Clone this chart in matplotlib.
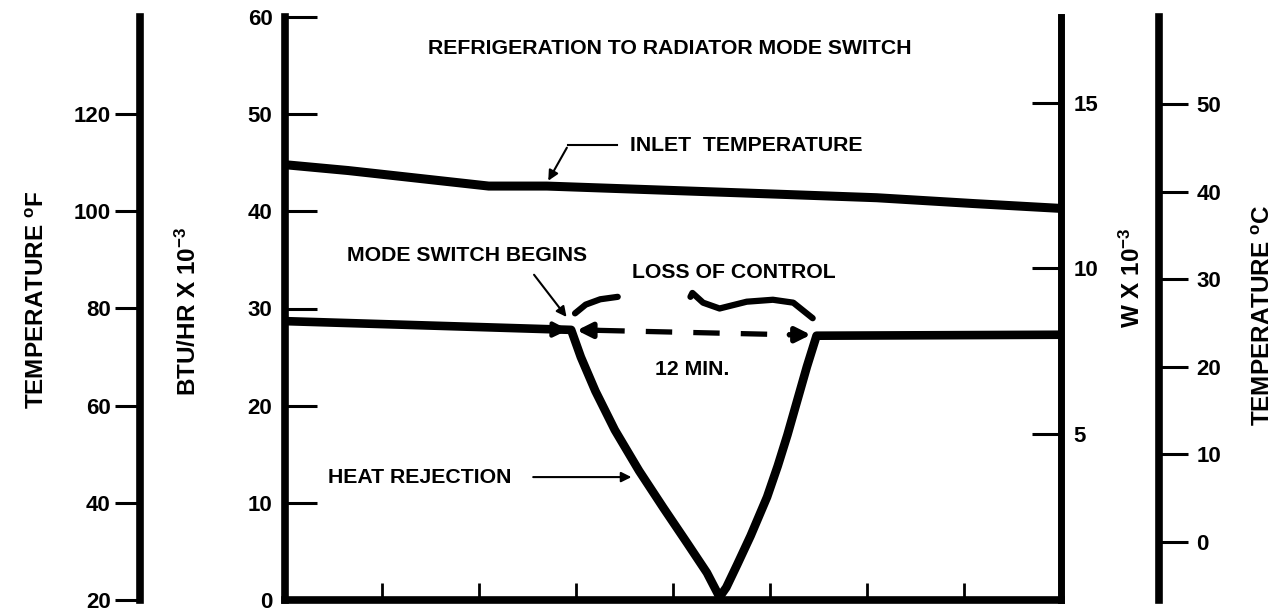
import numpy as np
import matplotlib.pyplot as plt

plt.rcParams['font.family'] = ['Liberation Sans', 'DejaVu Sans']
plt.rcParams['font.weight'] = 'bold'
plt.rcParams['mathtext.fontset'] = 'custom'
plt.rcParams['mathtext.bf'] = 'Liberation Sans:bold'
plt.rcParams['mathtext.rm'] = 'Liberation Sans:bold'
plt.rcParams['mathtext.default'] = 'bf'

# ---- data (BTU/HR x 10^-3 on the main axis, time in 8 equal divisions) ----
time_ticks = [1, 2, 3, 4, 5, 6, 7]

inlet_x = [0, 0.65, 2.1, 2.7, 4.7, 6.1, 7.1, 8]
inlet_y = [44.8, 44.2, 42.6, 42.6, 41.9, 41.4, 40.8, 40.3]

heat_x = [0, 2.95, 3.05, 3.2, 3.4, 3.65, 3.9, 4.15, 4.35, 4.48,
          4.55, 4.66, 4.8, 4.97, 5.08, 5.18, 5.28, 5.38, 5.48, 8]
heat_y = [28.7, 27.8, 25.0, 21.5, 17.5, 13.3, 9.5, 5.8, 2.8, 0.3,
          1.3, 3.6, 6.6, 10.6, 13.8, 17.0, 20.5, 24.0, 27.2, 27.3]

# loss of control interval (dashed double arrow)
loss_x = [2.98, 5.45]
loss_y = [27.75, 27.3]

# hand drawn brace over the interval
brace_l_x = [2.99, 3.1, 3.25, 3.43]
brace_l_y = [29.5, 30.4, 30.95, 31.2]
brace_r_x = [4.18, 4.20, 4.31, 4.48, 4.76, 5.03, 5.24, 5.44]
brace_r_y = [31.2, 31.6, 30.6, 30.0, 30.7, 30.9, 30.6, 29.0]

btu_ticks = [0, 10, 20, 30, 40, 50, 60]
f_ticks = [20, 40, 60, 80, 100, 120]
kw_ticks = [5, 10, 15]
c_ticks = [0, 10, 20, 30, 40, 50]


def btu_to_f(b):
    return 2 * np.asarray(b) + 20


def f_to_c(f):
    return (np.asarray(f) - 32) * 5 / 9


def btu_to_kw(b):
    return np.asarray(b) * 0.29307


def kw_to_btu(w):
    return np.asarray(w) / 0.29307


W, H = 1278, 615
fig = plt.figure(figsize=(W / 100, H / 100), dpi=100)
fig.patch.set_facecolor('white')

y0 = 1 - 600 / H
hgt = (600 - 17) / H
fs = 15.3      # annotations
tfs = 16       # tick labels
lfs = 17.5     # axis titles

# main axis
ax = fig.add_axes([285 / W, y0, (1061 - 285) / W, hgt])
ax.set_xlim(0, 8)
ax.set_ylim(0, 60)
ax.spines['top'].set_visible(False)
ax.spines['left'].set_linewidth(5.5)
ax.spines['bottom'].set_linewidth(5.5)
ax.spines['right'].set_visible(False)
ax.set_yticks(btu_ticks)
ax.set_xticks(time_ticks)
ax.tick_params(axis='y', direction='in', length=23, width=2.2, labelsize=tfs, pad=9)
ax.tick_params(axis='x', direction='in', length=12, width=2, labelbottom=False)

ax.plot(inlet_x, inlet_y, color='black', lw=6.5, solid_capstyle='butt', solid_joinstyle='round')
ax.plot(heat_x, heat_y, color='black', lw=6.2, solid_joinstyle='round', solid_capstyle='butt')
ax.annotate('', xy=(heat_x[1], heat_y[1]), xytext=(heat_x[1] - 0.3, heat_y[1] + 0.05),
            arrowprops=dict(arrowstyle='-|>', lw=3, color='black', mutation_scale=22))

# dashed interval with arrow heads
ax.plot([loss_x[0] + 0.25, loss_x[1] - 0.25], [loss_y[0], loss_y[1]], color='black',
        lw=3.8, dashes=(5, 4))
ax.annotate('', xy=(loss_x[0], loss_y[0]), xytext=(loss_x[0] + 0.28, loss_y[0]),
            arrowprops=dict(arrowstyle='-|>', lw=3.8, color='black', mutation_scale=22))
ax.annotate('', xy=(loss_x[1], loss_y[1]), xytext=(loss_x[1] - 0.28, loss_y[1]),
            arrowprops=dict(arrowstyle='-|>', lw=3.8, color='black', mutation_scale=22))
ax.plot(brace_l_x, brace_l_y, color='black', lw=4.5, solid_capstyle='round')
ax.plot(brace_r_x, brace_r_y, color='black', lw=4.5, solid_capstyle='round')

# annotations
ax.text(3.97, 56.8, 'REFRIGERATION TO RADIATOR MODE SWITCH', ha='center', va='center', fontsize=fs)
ax.text(3.56, 46.8, 'INLET  TEMPERATURE', ha='left', va='center', fontsize=fs)
ax.plot([3.42, 2.92], [46.8, 46.8], color='black', lw=1.5)
ax.annotate('', xy=(2.70, 42.9), xytext=(2.92, 46.8),
            arrowprops=dict(arrowstyle='-|>', lw=1.5, color='black', mutation_scale=15))
ax.text(1.88, 35.5, 'MODE SWITCH BEGINS', ha='center', va='center', fontsize=fs)
ax.annotate('', xy=(2.92, 28.9), xytext=(2.55, 33.7),
            arrowprops=dict(arrowstyle='-|>', lw=1.5, color='black', mutation_scale=15))
ax.text(4.63, 33.7, 'LOSS OF CONTROL', ha='center', va='center', fontsize=fs)
ax.text(4.20, 23.7, '12 MIN.', ha='center', va='center', fontsize=fs)
ax.text(0.44, 12.65, 'HEAT REJECTION', ha='left', va='center', fontsize=fs)
ax.annotate('', xy=(3.6, 12.65), xytext=(2.53, 12.65),
            arrowprops=dict(arrowstyle='-|>', lw=1.5, color='black', mutation_scale=15))

# W x 10^-3 on the right edge of the main axis
sec = ax.secondary_yaxis('right', functions=(btu_to_kw, kw_to_btu))
sec.spines['right'].set_linewidth(5)
sec.set_yticks(kw_ticks)
sec.tick_params(direction='in', length=21, width=2.2, labelsize=tfs, pad=9)

# temperature F axis on the far left
axf = fig.add_axes([140 / W, y0, 0.0005, hgt])
axf.set_ylim(*btu_to_f([0, 60]))
for s in ['top', 'right', 'bottom']:
    axf.spines[s].set_visible(False)
axf.spines['left'].set_linewidth(5.5)
axf.patch.set_visible(False)
axf.set_xticks([])
axf.set_yticks(f_ticks)
axf.tick_params(axis='y', direction='out', length=18, width=2.2, labelsize=tfs, pad=3)

# temperature C axis on the far right
axc = fig.add_axes([1159 / W - 0.0005, y0, 0.0005, hgt])
axc.set_ylim(*f_to_c(btu_to_f([0, 60])))
for s in ['top', 'left', 'bottom']:
    axc.spines[s].set_visible(False)
axc.spines['right'].set_linewidth(5.5)
axc.patch.set_visible(False)
axc.set_xticks([])
axc.yaxis.tick_right()
axc.set_yticks(c_ticks)
axc.tick_params(axis='y', direction='out', length=21, width=2.2, labelsize=tfs, pad=6)

# axis titles
fig.text(38 / W, 1 - 300 / H, r'TEMPERATURE $^{o}$F', rotation=90, ha='center', va='center', fontsize=lfs)
fig.text(188 / W, 1 - 311 / H, r'BTU/HR X 10$^{-3}$', rotation=90, ha='center', va='center', fontsize=lfs)
fig.text(1132 / W, 1 - 278 / H, r'W X 10$^{-3}$', rotation=90, ha='center', va='center', fontsize=lfs)
fig.text(1263 / W, 1 - 315 / H, r'TEMPERATURE $^{o}$C', rotation=90, ha='center', va='center', fontsize=lfs)

fig.savefig('out.png', dpi=100, facecolor='white')
